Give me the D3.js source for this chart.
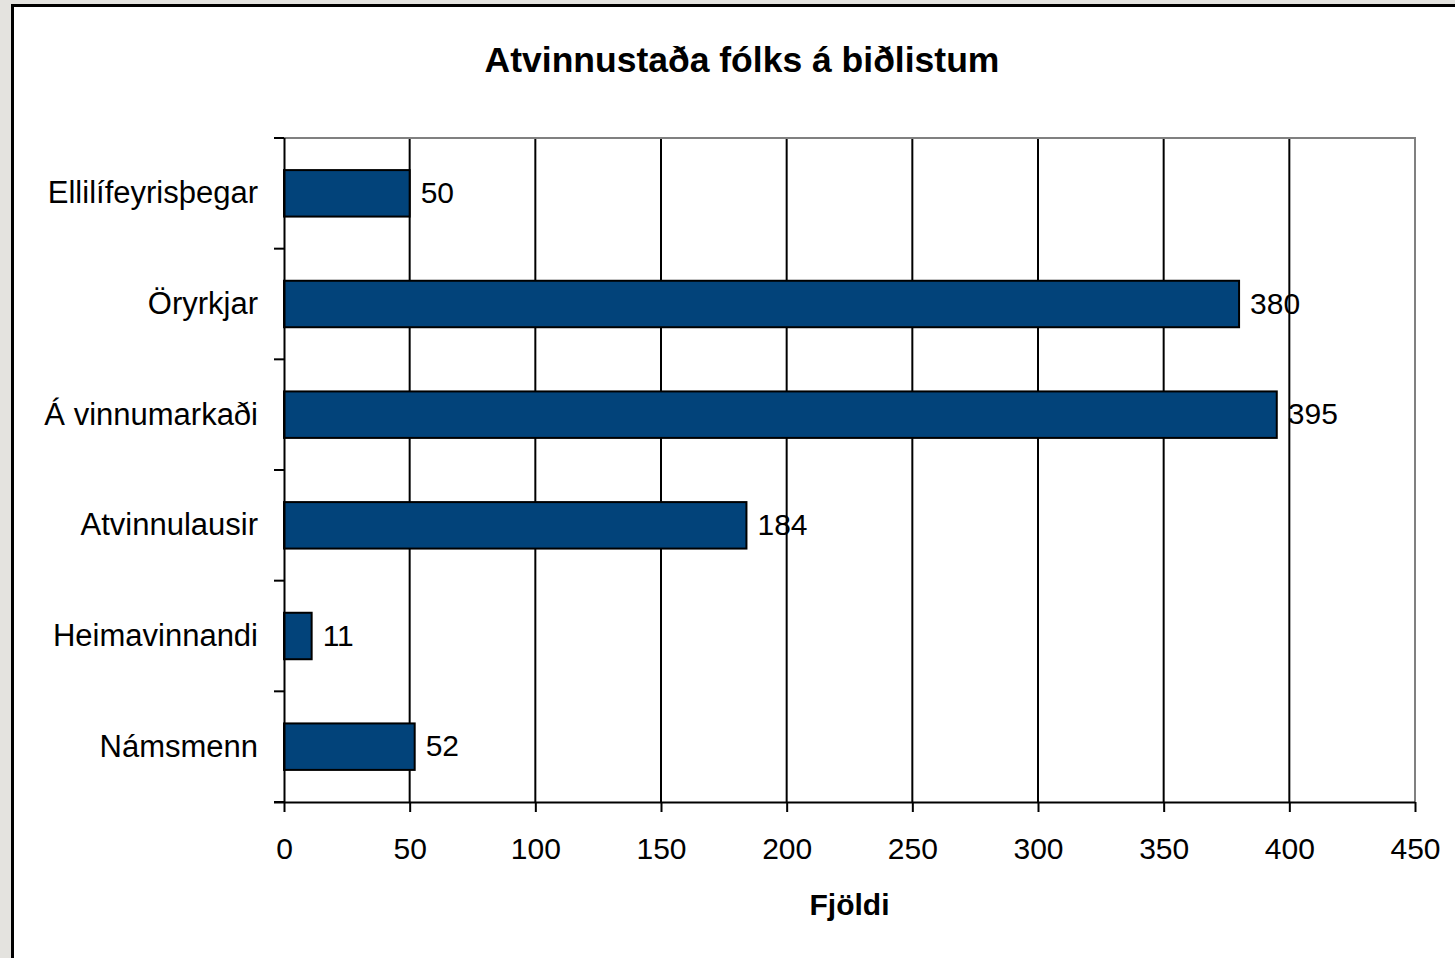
<!DOCTYPE html>
<html>
<head>
<meta charset="utf-8">
<script src="https://cdn.jsdelivr.net/npm/d3@7"></script>
<style>
  html, body { margin: 0; padding: 0; background: #e4e3df; }
  svg { display: block; }
  text { font-family: "Liberation Sans", Arial, sans-serif; }
</style>
</head>
<body>
<div id="chart"></div>
<script>
// Gögn
const categories = ["Ellilífeyrisþegar", "Öryrkjar", "Á vinnumarkaði", "Atvinnulausir", "Heimavinnandi", "Námsmenn"];
const values = [50, 380, 395, 184, 11, 52];
const xTicks = [0, 50, 100, 150, 200, 250, 300, 350, 400, 450];
const title = "Atvinnustaða fólks á biðlistum";
const xTitle = "Fjöldi";

const W = 1455, H = 958;
const plot = {left: 284, right: 1415, top: 138, bottom: 802};

const svg = d3.select("#chart").append("svg")
    .attr("width", W)
    .attr("height", H);

// Bakgrunnur og rammi
svg.append("rect")
    .attr("width", W).attr("height", H)
    .attr("fill", "#e4e3df");

svg.append("rect")
    .attr("x", 12.5).attr("y", 5.5)
    .attr("width", W + 20).attr("height", H + 20)
    .attr("fill", "#fff")
    .attr("stroke", "#000")
    .attr("stroke-width", 3);

// Kvarðar
const x = d3.scaleLinear()
    .domain([0, 450])
    .range([plot.left, plot.right]);

const y = d3.scaleBand()
    .domain(categories)
    .range([plot.top, plot.bottom])
    .padding(0);

const barH = y.bandwidth() * 0.42;

// Lóðréttar hnitalínur
svg.append("g")
    .selectAll("line")
    .data(xTicks.filter(d => d > 0 && d < 450))
    .enter().append("line")
    .attr("x1", d => x(d)).attr("x2", d => x(d))
    .attr("y1", plot.top).attr("y2", plot.bottom)
    .attr("stroke", "#000")
    .attr("stroke-width", 2);

// Efri og hægri rammi (grár)
svg.append("path")
    .attr("d", `M${plot.left},${plot.top}H${plot.right}V${plot.bottom}`)
    .attr("fill", "none")
    .attr("stroke", "#808080")
    .attr("stroke-width", 2);

// Súlur
svg.append("g")
    .selectAll("rect")
    .data(values)
    .enter().append("rect")
    .attr("x", x(0))
    .attr("y", (d, i) => y(categories[i]) + (y.bandwidth() - barH) / 2)
    .attr("width", d => x(d) - x(0))
    .attr("height", barH)
    .attr("fill", "#02437a")
    .attr("stroke", "#000")
    .attr("stroke-width", 2);

// Gildismerki
svg.append("g")
    .selectAll("text")
    .data(values)
    .enter().append("text")
    .attr("x", d => x(d) + 11)
    .attr("y", (d, i) => y(categories[i]) + y.bandwidth() / 2)
    .attr("dy", "0.32em")
    .attr("font-size", "30px")
    .attr("fill", "#000")
    .text(d => d);

// X-ás
const xAxis = svg.append("g")
    .attr("transform", `translate(0,${plot.bottom})`)
    .call(d3.axisBottom(x).tickValues(xTicks).tickSize(10).tickPadding(26).tickSizeOuter(0));

xAxis.select(".domain")
    .attr("d", `M${plot.left - 10},0.5H${plot.right}`)
    .attr("stroke", "#000")
    .attr("stroke-width", 2);
xAxis.selectAll(".tick line")
    .attr("stroke", "#000")
    .attr("stroke-width", 2);
xAxis.selectAll(".tick text")
    .attr("font-size", "30px")
    .attr("font-family", "'Liberation Sans', Arial, sans-serif")
    .attr("fill", "#000");

// Y-ás
const yAxis = svg.append("g")
    .attr("transform", `translate(${plot.left},0)`)
    .call(d3.axisLeft(y).tickSize(0).tickPadding(26).tickSizeOuter(0));

yAxis.select(".domain")
    .attr("d", `M0.5,${plot.top}V${plot.bottom}`)
    .attr("stroke", "#000")
    .attr("stroke-width", 2);
yAxis.selectAll(".tick text")
    .attr("font-size", "31px")
    .attr("font-family", "'Liberation Sans', Arial, sans-serif")
    .attr("fill", "#000");

// Merki milli flokka
const bounds = categories.map(c => y(c)).concat([plot.bottom]);
svg.append("g")
    .selectAll("line")
    .data(bounds)
    .enter().append("line")
    .attr("x1", plot.left - 10).attr("x2", plot.left)
    .attr("y1", d => d).attr("y2", d => d)
    .attr("stroke", "#000")
    .attr("stroke-width", 2);

// Titlar
svg.append("text")
    .attr("x", 742)
    .attr("y", 72)
    .attr("text-anchor", "middle")
    .attr("font-size", "35.5px")
    .attr("font-weight", "bold")
    .text(title);

svg.append("text")
    .attr("x", (plot.left + plot.right) / 2)
    .attr("y", 915)
    .attr("text-anchor", "middle")
    .attr("font-size", "30px")
    .attr("font-weight", "bold")
    .text(xTitle);
</script>
</body>
</html>
